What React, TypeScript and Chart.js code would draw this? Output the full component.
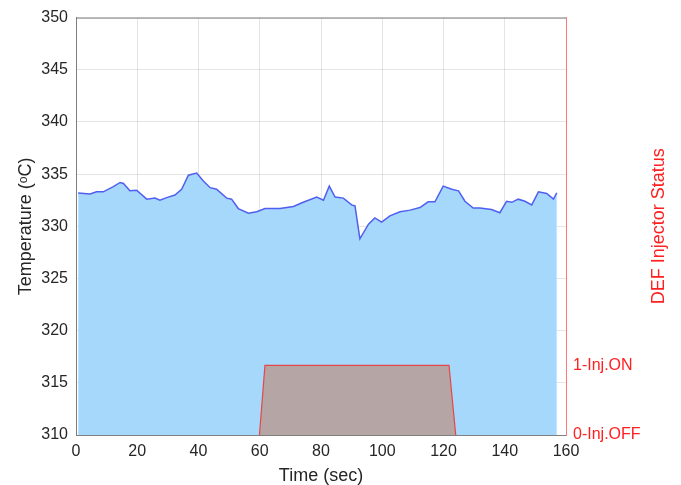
import React, { useEffect, useRef } from "react";
import { Chart, registerables } from "chart.js";

Chart.register(...registerables);

const timeSec = [0.7, 4.6, 6.7, 8.9, 12.2, 14.4, 15.5, 17.6, 19.8, 23.1, 25.8, 27.4, 29.6, 32.3, 34.5, 36.7, 39.4, 41.6, 43.8, 45.9, 49.2, 50.8, 53.0, 56.3, 59.0, 61.7, 66.6, 71.0, 74.2, 78.6, 80.8, 82.7, 84.6, 87.3, 90.0, 91.1, 92.7, 95.5, 97.6, 99.8, 102.5, 105.8, 109.1, 112.3, 115.0, 117.2, 119.9, 122.7, 124.9, 127.0, 129.7, 131.9, 135.7, 138.4, 140.6, 142.3, 144.4, 146.6, 148.8, 151.0, 153.7, 155.9, 157.0];
const temperature = [333.2, 333.1, 333.3, 333.3, 333.8, 334.2, 334.1, 333.4, 333.45, 332.6, 332.7, 332.5, 332.75, 333.0, 333.55, 334.9, 335.1, 334.35, 333.7, 333.55, 332.7, 332.6, 331.7, 331.25, 331.4, 331.7, 331.7, 331.9, 332.3, 332.8, 332.5, 333.85, 332.8, 332.7, 332.05, 331.95, 328.8, 330.2, 330.8, 330.4, 331.0, 331.4, 331.55, 331.8, 332.35, 332.35, 333.85, 333.55, 333.4, 332.4, 331.75, 331.75, 331.6, 331.3, 332.4, 332.3, 332.6, 332.4, 332.05, 333.3, 333.15, 332.6, 333.2];

const injTime = [59.9, 61.7, 121.8, 124.0];
const injStatus = [0, 1, 1, 0];

const xTicks = [0, 20, 40, 60, 80, 100, 120, 140, 160];
const statusTickValues = [0, 1];
const statusTickLabels = ["0-Inj.OFF", "1-Inj.ON"];

const FONT = "Arial, 'Liberation Sans', Helvetica, sans-serif";
const TEXT = "#262626";
const RED = "#ff2020";

const framePlugin = {
  id: "frame",
  afterDraw(chart: any) {
    const { ctx, chartArea } = chart;
    ctx.save();
    ctx.strokeStyle = "#7f7f7f";
    ctx.lineWidth = 1;
    ctx.beginPath();
    ctx.moveTo(chartArea.left, chartArea.top + 0.5);
    ctx.lineTo(chartArea.right, chartArea.top + 0.5);
    ctx.stroke();
    // right title
    ctx.translate(659, (chartArea.top + chartArea.bottom) / 2);
    ctx.rotate(-Math.PI / 2);
    ctx.fillStyle = RED;
    ctx.font = `18px ${FONT}`;
    ctx.textAlign = "center";
    ctx.textBaseline = "middle";
    ctx.fillText("DEF Injector Status", 0, 0);
    ctx.restore();
  },
};

export default function App() {
  const ref = useRef<HTMLCanvasElement>(null);
  useEffect(() => {
    const chart = new Chart(ref.current!, {
      type: "line",
      data: {
        datasets: [
          {
            label: "Injector",
            data: injTime.map((t, i) => ({ x: t, y: injStatus[i] })),
            yAxisID: "y2",
            borderColor: "rgb(232,70,70)",
            borderWidth: 1.2,
            backgroundColor: "rgba(191,131,105,0.6)",
            fill: "start",
            pointRadius: 0,
            tension: 0,
            order: 0,
          },
          {
            label: "Temperature",
            data: timeSec.map((t, i) => ({ x: t, y: temperature[i] })),
            yAxisID: "y",
            borderColor: "rgb(80,95,240)",
            borderWidth: 1.5,
            backgroundColor: "rgb(166,216,252)",
            fill: "start",
            pointRadius: 0,
            tension: 0,
            order: 1,
          },
        ],
      },
      options: {
        animation: false,
        responsive: false,
        layout: { padding: { top: 16, left: 0, right: 0, bottom: 0 } },
        plugins: { legend: { display: false }, tooltip: { enabled: false } },
        scales: {
          x: {
            type: "linear",
            min: 0,
            max: 160,
            z: 1,
            afterBuildTicks: (s: any) => {
              s.ticks = xTicks.map((v) => ({ value: v }));
            },
            afterFit: (s: any) => {
              s.height = 50;
            },
            grid: { color: "rgba(0,0,0,0.1)", drawTicks: false },
            border: { color: "#7f7f7f", width: 1 },
            ticks: { color: TEXT, font: { family: FONT, size: 16 }, padding: 7, maxRotation: 0 },
            title: {
              display: true,
              text: "Time (sec)",
              color: TEXT,
              font: { family: FONT, size: 18, lineHeight: 1 },
              padding: { top: 0, bottom: 0 },
            },
          },
          y: {
            type: "linear",
            position: "left",
            min: 310,
            max: 350,
            z: 1,
            afterBuildTicks: (s: any) => {
              const t = [];
              for (let v = 310; v <= 350; v += 5) t.push({ value: v });
              s.ticks = t;
            },
            afterFit: (s: any) => {
              s.width = 76;
            },
            grid: { color: "rgba(0,0,0,0.1)", drawTicks: false },
            border: { color: "#7f7f7f", width: 1 },
            ticks: { color: TEXT, font: { family: FONT, size: 16 }, padding: 8 },
            title: {
              display: true,
              text: "Temperature (ᵒC)",
              color: TEXT,
              font: { family: FONT, size: 18, lineHeight: 1 },
              padding: { top: 17, bottom: 0 },
            },
          },
          y2: {
            type: "linear",
            position: "right",
            min: 0,
            max: 6,
            afterBuildTicks: (s: any) => {
              s.ticks = statusTickValues.map((v) => ({ value: v }));
            },
            afterFit: (s: any) => {
              s.width = 115;
            },
            grid: { display: false, drawOnChartArea: false, drawTicks: false },
            border: { color: "rgb(255,120,120)", width: 1 },
            ticks: {
              color: RED,
              font: { family: FONT, size: 16 },
              padding: 7,
              callback: (v: any) => {
                const i = statusTickValues.indexOf(Number(v));
                return i >= 0 ? statusTickLabels[i] : "";
              },
            },
          },
        },
      },
      plugins: [framePlugin],
    } as any);
    return () => chart.destroy();
  }, []);
  return (
    <div style={{ position: "fixed", left: 0, top: 0, width: 681, height: 485, background: "#fff" }}>
      <canvas ref={ref} width={681} height={485} style={{ width: 681, height: 485 }} />
    </div>
  );
}
